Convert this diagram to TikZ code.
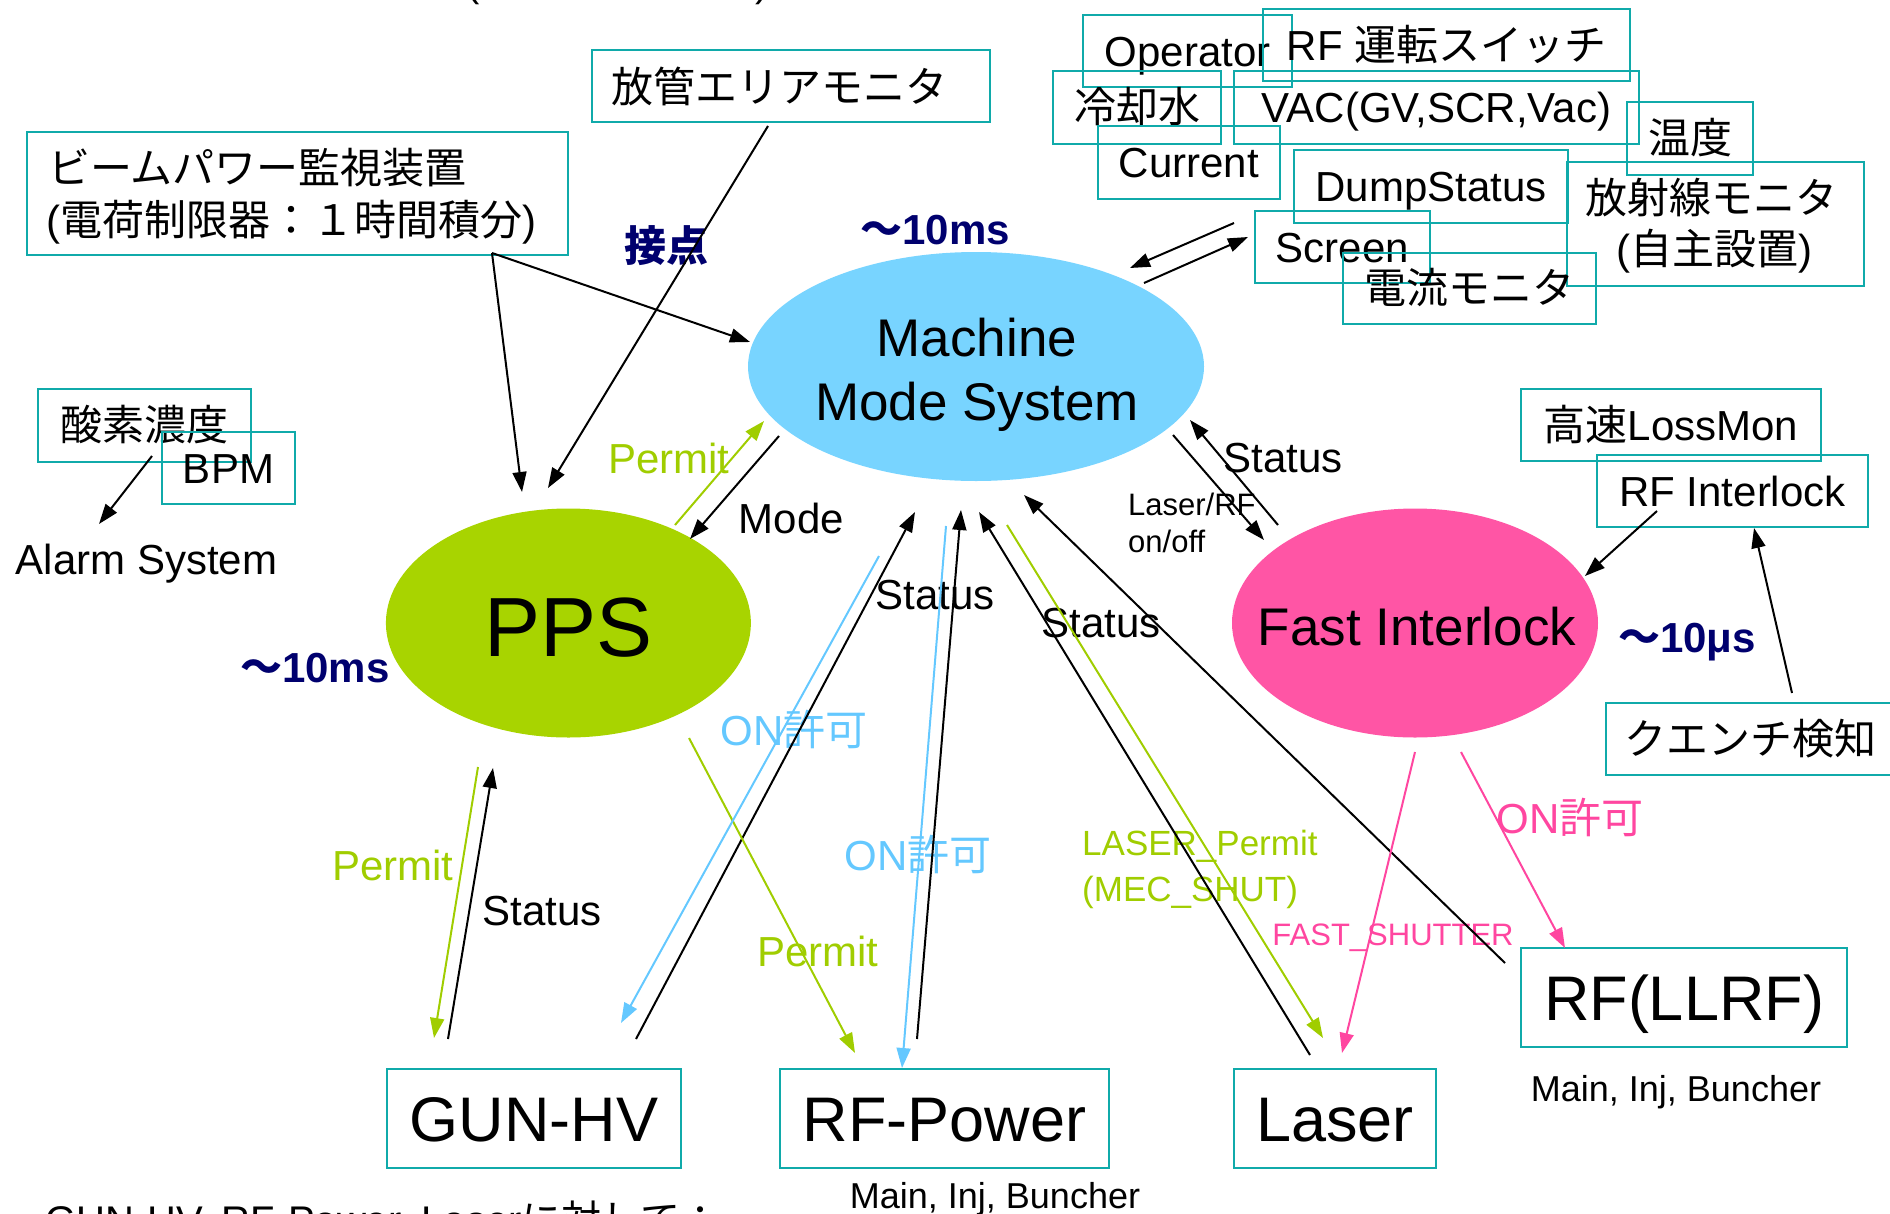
\documentclass[tikz,border=0pt]{standalone}
\usepackage{fontspec}
\setmainfont{Liberation Sans}
\newfontfamily\jp{Noto Sans CJK JP}
\usetikzlibrary{arrows.meta,shapes.geometric}
\newcommand\jpt[1]{{\jp #1}}
\definecolor{boxteal}{RGB}{16,170,170}
\definecolor{mmsblue}{RGB}{120,212,255}
\definecolor{ppsgreen}{RGB}{168,212,0}
\definecolor{fipink}{RGB}{255,85,165}
\definecolor{navyt}{RGB}{0,0,110}
\definecolor{lblue}{RGB}{100,200,255}
\definecolor{lgreen}{RGB}{160,205,0}
\definecolor{lpink}{RGB}{255,70,160}
\begin{document}
\begin{tikzpicture}[x=1pt,y=-1pt,
  box/.style={draw=boxteal, line width=2.6pt, inner sep=0pt},
  s31/.style={font=\fontsize{31}{37}\selectfont, text height=22pt, text depth=0pt, inner sep=0pt},
  s35/.style={font=\fontsize{35}{42}\selectfont, text height=25pt, text depth=0pt, inner sep=0pt},
  s36/.style={font=\fontsize{36}{43}\selectfont, text height=26pt, text depth=0pt, inner sep=0pt},
  s42/.style={font=\fontsize{42}{50}\selectfont, text height=30pt, text depth=0pt, inner sep=0pt},
  s42b/.style={font=\fontsize{42}{50}\selectfont\bfseries, text=navyt, text height=30pt, text depth=0pt, inner sep=0pt},
  s53/.style={font=\fontsize{53}{64}\selectfont, text height=38pt, text depth=0pt, inner sep=0pt},
  s63/.style={font=\fontsize{63}{75}\selectfont, text height=45pt, text depth=0pt, inner sep=0pt},
  s84/.style={font=\fontsize{84}{100}\selectfont, text height=60pt, text depth=0pt, inner sep=0pt},
  s40/.style={font=\fontsize{40}{48}\selectfont, inner sep=0pt},
  arr/.style={line width=2pt, -{Triangle[length=20pt,width=14pt]}},
  blk/.style={arr, draw=black},
  grn/.style={arr, draw=lgreen},
  blu/.style={arr, draw=lblue},
  pnk/.style={arr, draw=lpink},
  oval/.style={ellipse, draw=none, inner sep=0pt}
]
\useasboundingbox (0,0) rectangle (1890,1213);

% ---------- ellipses ----------
\node[oval, fill=mmsblue, minimum width=456pt, minimum height=229pt] (mms) at (976,366.5) {};
\node[oval, fill=ppsgreen, minimum width=365pt, minimum height=229pt] (pps) at (568.4,623) {};
\node[oval, fill=fipink, minimum width=366pt, minimum height=229pt] (fi) at (1415,623) {};
\node[s53] (mmsT1) at (977,337) {Machine};
\node[s53] (mmsT2) at (977,401) {Mode System};
\node[s84] (ppsT) at (568.5,626) {PPS};
\node[s53] (fiT) at (1417,626) {Fast Interlock};

% ---------- boxes ----------
\node[box, minimum width=398pt, minimum height=72pt] (hokan) at (791,86) {};
\node[s42, font=\fontsize{42}{50}\selectfont\jp] (hokanT) at (779,87) {放管エリアモニタ};
\node[box, minimum width=541pt, minimum height=123pt] (beam) at (297.5,193.5) {};
\node[s42, anchor=west, font=\fontsize{42}{50}\selectfont\jp] (beamT1) at (48,168) {ビームパワー監視装置};
\node[s42, anchor=west] (beamT2) at (46,220) {(\jpt{電荷制限器：１時間積分})};

\node[box, s42, minimum width=209pt, minimum height=72pt] (operator) at (1187.5,51) {Operator};
\node[box, s42, minimum width=367pt, minimum height=72pt] (rfsw) at (1446.5,45) {RF \jpt{運転スイッチ}};
\node[box, s42, minimum width=168pt, minimum height=73pt] (reikyaku) at (1137,107.5) {\jpt{冷却水}};
\node[box, s42, minimum width=405pt, minimum height=73pt] (vac) at (1436.5,107.5) {VAC(GV,SCR,Vac)};
\node[box, s42, minimum width=182pt, minimum height=73pt] (current) at (1189,162.5) {Current};
\node[box, s42, minimum width=126pt, minimum height=73pt] (ondo) at (1690,138.5) {\jpt{温度}};
\node[box, s42, minimum width=274pt, minimum height=73pt] (dump) at (1431,186.5) {DumpStatus};
\node[box, minimum width=297pt, minimum height=124pt] (hosha) at (1715.5,224) {};
\node[s42, font=\fontsize{42}{50}\selectfont\jp] (hoshaT1) at (1711,198) {放射線モニタ};
\node[s42] (hoshaT2) at (1714,249) {(\jpt{自主設置})};
\node[box, s42, minimum width=175pt, minimum height=72pt] (screen) at (1342.5,247) {Screen};
\node[box, s42, minimum width=253pt, minimum height=71pt] (denryu) at (1469.5,288.5) {\jpt{電流モニタ}};

\node[box, s42, minimum width=213pt, minimum height=73pt] (sanso) at (144.5,425.5) {\jpt{酸素濃度}};
\node[box, s42, minimum width=133pt, minimum height=72pt] (bpm) at (228.5,468) {BPM};
\node[s42] (alarm) at (146.5,559) {Alarm System};

\node[box, s42, minimum width=300pt, minimum height=72pt] (lossmon) at (1671,425) {\jpt{高速}LossMon};
\node[box, s42, minimum width=271pt, minimum height=72pt] (rfil) at (1732.5,491) {RF Interlock};
\node[box, s42, minimum width=288pt, minimum height=72pt] (quench) at (1750,739) {\jpt{クエンチ検知}};

\node[box, s63, minimum width=294pt, minimum height=99pt] (gunhv) at (534,1118.5) {GUN-HV};
\node[box, s63, minimum width=329pt, minimum height=99pt] (rfpower) at (944.5,1118.5) {RF-Power};
\node[box, s63, minimum width=202pt, minimum height=99pt] (laser) at (1335,1118.5) {Laser};
\node[box, s63, minimum width=326pt, minimum height=99pt] (llrf) at (1684,997.5) {RF(LLRF)};
\node[s36] (mainA) at (995,1195) {Main, Inj, Buncher};
\node[s36] (mainB) at (1676,1088) {Main, Inj, Buncher};

% ---------- free labels ----------
\node[s42b] (setten) at (666,246) {\jpt{接点}};
\node[s42b] (t10a) at (935,229) {\jpt{～}10ms};
\node[s42b] (t10b) at (315,667) {\jpt{～}10ms};
\node[s42b] (t10c) at (1687,637) {\jpt{～}10μs};
\node[s42] (stFI) at (1283,457) {Status};
\node[s31, anchor=west] (lrf1) at (1128,504) {Laser/RF};
\node[s31, anchor=west] (lrf2) at (1128,541) {on/off};
\node[s42] (mode) at (791.5,518) {Mode};
\node[s42, text=lgreen] (permTop) at (669,458) {Permit};
\node[s42] (stGun) at (935,594) {Status};
\node[s42] (stLaser) at (1101,622) {Status};
\node[s42, text=lblue] (onA) at (794,730) {ON\jpt{許可}};
\node[s42, text=lblue] (onB) at (918,855) {ON\jpt{許可}};
\node[s42, text=lgreen] (permL) at (393,865) {Permit};
\node[s42] (stL) at (542,910) {Status};
\node[s42, text=lgreen] (permM) at (818,951) {Permit};
\node[s35, anchor=west, text=lgreen] (lp1) at (1082,843) {LASER\_Permit};
\node[s35, anchor=west, text=lgreen] (lp2) at (1082,889) {(MEC\_SHUT)};
\node[s31, text=lpink] (fs) at (1393,934) {FAST\_SHUTTER};
\node[s42, text=lpink] (onP) at (1570,818) {ON\jpt{許可}};
\node[s40, anchor=base west] (bottomT) at (45,1234) {GUN-HV, RF-Power, Laser\jpt{に対して：}};
\node[s40, anchor=base west] (topT) at (466,-4) {(\hspace{276pt})};

% ---------- connector end points ----------
\coordinate (beamOut) at (492,253);
\coordinate (ppsA) at (522,492);
\coordinate (mmsA) at (750,342);
\coordinate (hokanOut) at (768,126);
\coordinate (ppsB) at (548,488);
\coordinate (sansoOut) at (152,456);
\coordinate (alarmIn) at (99,524);
\coordinate (clOut) at (1234,223);
\coordinate (mmsB) at (1130,268);
\coordinate (mmsOutB) at (1144,283);
\coordinate (clIn) at (1248,237);
\coordinate (mmsMode) at (779,436);
\coordinate (ppsMode) at (690,539);
\coordinate (ppsPerm) at (675,525);
\coordinate (mmsPerm) at (764,421);
\coordinate (gunSt) at (448,1039);
\coordinate (ppsSt) at (493,768);
\coordinate (ppsPermOut) at (478,767);
\coordinate (gunPermIn) at (434,1038);
\coordinate (gunSt2) at (636,1039);
\coordinate (mmsC) at (915,512);
\coordinate (rfpSt) at (917,1039);
\coordinate (mmsD) at (961,510);
\coordinate (laserSt) at (1310,1055);
\coordinate (mmsE) at (979,512);
\coordinate (llrfSt) at (1505,963);
\coordinate (mmsF) at (1024,495);
\coordinate (fiSt) at (1278,525);
\coordinate (mmsG) at (1190,420);
\coordinate (mmsLR) at (1173,435);
\coordinate (fiLR) at (1264,540);
\coordinate (rfilOut) at (1657,511);
\coordinate (fiIL) at (1585,576);
\coordinate (quenchOut) at (1792,693);
\coordinate (rfilIn) at (1754,528);
\coordinate (ppsPermM) at (689,738);
\coordinate (rfpPermIn) at (855,1053);
\coordinate (mmsLP) at (1007,525);
\coordinate (laserLP) at (1323,1038);
\coordinate (mmsOnA) at (879,556);
\coordinate (gunOnIn) at (621,1023);
\coordinate (mmsOnB) at (946,526);
\coordinate (rfpOnIn) at (902,1068);
\coordinate (fiFS) at (1415,752);
\coordinate (laserFS) at (1342,1053);
\coordinate (fiOn) at (1461,752);
\coordinate (llrfOn) at (1565,948);

% ---------- connectors ----------
\draw[blk] (beamOut) -- (ppsA);
\draw[blk] (beamOut) -- (mmsA);
\draw[blk] (hokanOut) -- (ppsB);
\draw[blk] (sansoOut) -- (alarmIn);
\draw[blk] (clOut) -- (mmsB);
\draw[blk] (mmsOutB) -- (clIn);
\draw[blk] (mmsMode) -- (ppsMode);
\draw[grn] (ppsPerm) -- (mmsPerm);
\draw[blk] (gunSt) -- (ppsSt);
\draw[grn] (ppsPermOut) -- (gunPermIn);
\draw[blk] (gunSt2) -- (mmsC);
\draw[blk] (rfpSt) -- (mmsD);
\draw[blk] (laserSt) -- (mmsE);
\draw[blk] (llrfSt) -- (mmsF);
\draw[blk] (fiSt) -- (mmsG);
\draw[blk] (mmsLR) -- (fiLR);
\draw[blk] (rfilOut) -- (fiIL);
\draw[blk] (quenchOut) -- (rfilIn);
\draw[grn] (ppsPermM) -- (rfpPermIn);
\draw[grn] (mmsLP) -- (laserLP);
\draw[blu] (mmsOnA) -- (gunOnIn);
\draw[blu] (mmsOnB) -- (rfpOnIn);
\draw[pnk] (fiFS) -- (laserFS);
\draw[pnk] (fiOn) -- (llrfOn);
\end{tikzpicture}
\end{document}
